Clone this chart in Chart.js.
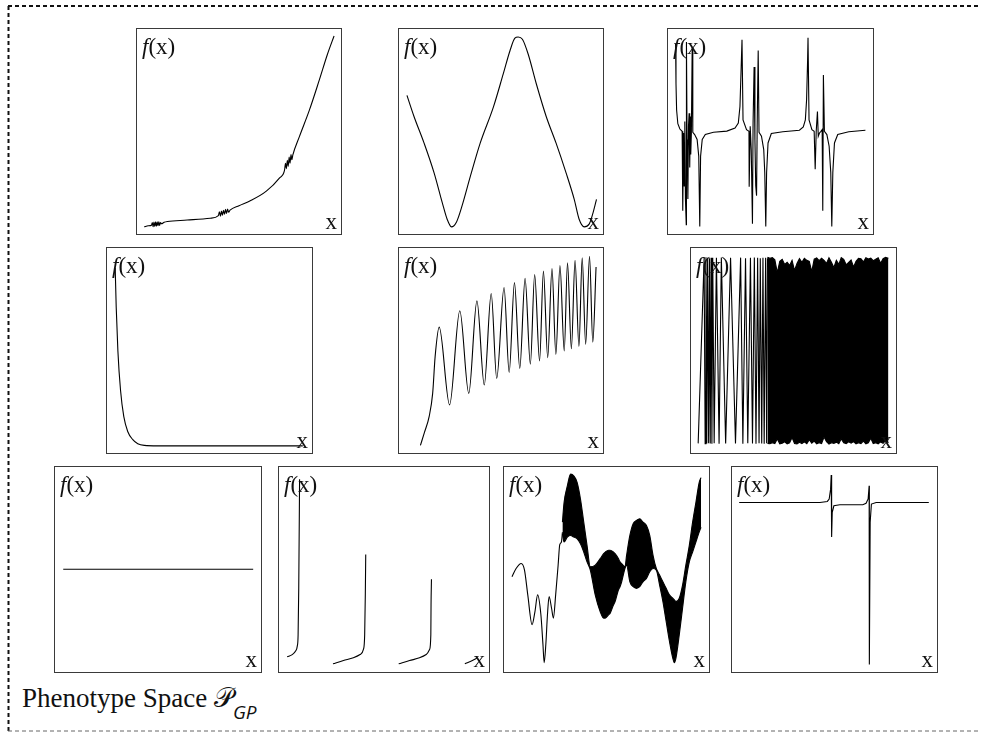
<!DOCTYPE html>
<html>
<head>
<meta charset="utf-8">
<script src="https://cdn.jsdelivr.net/npm/chart.js@4.4.0/dist/chart.umd.min.js"></script>
<style>
  html, body { margin: 0; padding: 0; background: #fff; }
  body { width: 981px; height: 733px; position: relative; overflow: hidden; font-family: "Liberation Serif", "DejaVu Serif", serif; color: #111; }
  .panel { position: absolute; box-sizing: border-box; border: 1px solid #3a3a3a; background: #fff; }
  .panel canvas { position: absolute; left: 0; top: 0; }
  .fx { position: absolute; left: 5px; top: 6px; font-size: 23px; line-height: 23px; white-space: nowrap; }
  .xl { position: absolute; right: 4px; bottom: 1px; font-size: 23px; line-height: 23px; }
  #frame { position: absolute; left: 0; top: 0; }
  #caption { position: absolute; left: 22px; top: 684px; font-size: 27px; line-height: 27px; white-space: nowrap; }
  #caption .sym { font-family: "DejaVu Sans", "Noto Sans", serif; }
  #caption sub { font-family: "Open Sans", "DejaVu Sans", sans-serif; font-style: italic; font-size: 19px; position: relative; top: 12px; vertical-align: baseline; }
</style>
</head>
<body>
<svg id="frame" width="981" height="733">
  <line x1="8" y1="6" x2="981" y2="6" stroke="#111" stroke-width="2" stroke-dasharray="4 3"/>
  <line x1="8.5" y1="6" x2="8.5" y2="731" stroke="#111" stroke-width="2" stroke-dasharray="4 3"/>
  <line x1="8" y1="731" x2="981" y2="731" stroke="#666" stroke-width="1" stroke-dasharray="4 3"/>
</svg>
<div id="caption">Phenotype Space <span class="sym">𝒫</span><sub>GP</sub></div>
<script>
// each curve is [x, f(x)] with both axes running 0..100 across a panel

// exponential growth with three small noisy patches
const growthCurve = [[3.5,3.5],[5.5,4.0],[7.1,4.3],[7.5,5.6],[7.9,3.6],[8.3,5.8],[8.7,3.7],[9.1,5.9],[9.5,3.8],[9.9,6.0],[10.3,4.0],[10.7,5.9],[11.1,4.2],[11.5,5.6],[12.0,5.0],[13.3,5.7],[14.9,6.1],[24.6,6.8],[35.9,7.7],[39.9,9.0],[40.4,10.8],[40.9,8.7],[41.4,11.2],[41.9,9.2],[42.4,11.6],[42.9,9.6],[43.4,12.0],[43.9,10.0],[44.4,12.2],[44.9,10.6],[45.6,11.6],[50.0,13.8],[55.3,16.1],[63.4,20.9],[69.9,27.4],[72.3,31.0],[72.8,34.5],[73.2,31.8],[73.7,36.0],[74.1,33.0],[74.6,37.5],[75.0,34.5],[75.5,38.8],[75.9,36.2],[76.4,38.6],[79.6,47.5],[84.5,60.4],[89.3,74.9],[93.4,87.8],[96.6,96.6]];

// one slow wave
const waveCurve = [[3.9,67.6],[7.4,57.2],[12.3,44.3],[17.2,29.8],[21.2,15.3],[23.6,7.2],[25.7,3.5],[28.2,5.9],[30.9,13.7],[35.0,28.2],[39.8,44.3],[46.3,62.0],[51.1,78.1],[54.4,89.4],[56.8,95.5],[58.4,96.1],[60.5,95.0],[63.3,87.8],[67.3,73.3],[72.2,57.2],[77.0,44.3],[81.9,29.8],[85.9,16.9],[88.3,7.2],[90.8,3.5],[93.2,4.8],[95.6,12.1],[96.8,16.9]];

// repeating poles with bursts of spikes
const poleCurve = [[3.7,92.8],[3.9,73.4],[4.2,60.5],[4.8,53.8],[5.8,51.2],[6.9,50.1],[7.2,11.4],[7.6,49.3],[7.9,23.5],[8.2,54.9],[8.5,17.1],[8.9,4.5],[9.0,93.6],[9.3,46.1],[9.7,17.1],[10.0,52.5],[10.3,58.9],[10.6,32.4],[10.9,57.3],[11.1,38.8],[11.4,49.3],[11.8,91.1],[12.1,49.6],[13.0,48.5],[14.2,46.1],[15.0,38.0],[15.5,3.7],[15.9,38.0],[16.7,46.1],[18.2,48.5],[22.2,49.6],[28.7,50.2],[32.7,51.7],[34.3,54.1],[35.1,62.2],[35.7,81.5],[36.1,94.7],[36.6,55.7],[38.3,50.9],[39.5,50.1],[39.6,23.0],[40.1,52.5],[40.6,41.2],[41.2,5.0],[41.5,54.1],[42.0,81.5],[42.4,46.1],[42.8,23.5],[43.2,18.7],[43.5,52.5],[44.0,89.5],[44.4,49.6],[45.6,47.7],[46.7,41.2],[47.2,30.0],[47.7,3.7],[48.1,30.0],[48.8,44.4],[50.4,49.0],[56.0,49.9],[64.1,50.6],[66.0,52.2],[67.0,55.7],[67.6,65.4],[68.1,84.7],[68.3,95.7],[68.8,55.7],[70.2,50.9],[71.3,50.1],[71.8,31.6],[72.3,50.1],[72.9,59.7],[73.3,47.7],[73.9,49.3],[74.6,50.1],[75.2,50.9],[75.5,11.4],[75.8,77.5],[76.3,50.1],[77.5,48.5],[78.6,42.8],[79.4,30.0],[79.9,3.7],[80.4,30.0],[81.2,44.4],[82.8,48.5],[88.2,49.9],[96.3,50.6]];

// fast decay
const decayCurve = [[4.0,90.3],[4.5,71.0],[5.3,50.0],[6.6,30.6],[8.2,17.7],[10.1,10.5],[12.6,6.5],[15.0,4.5],[18.2,3.7],[24.6,3.5],[95.5,3.5]];

// rising oscillation, period shrinking
const rampCurve = [[10.5,3.7],[12.4,9.8],[14.8,17.9],[16.5,29.1],[17.7,46.9],[19.7,61.4],[24.8,23.5],[29.8,69.4],[34.2,29.1],[38.2,74.2],[41.8,33.2],[45.2,77.8],[47.9,36.4],[51.5,80.7],[54.0,39.3],[56.6,83.1],[59.2,41.2],[61.8,85.2],[64.4,43.3],[66.5,87.1],[68.9,44.9],[70.8,88.7],[72.9,46.5],[75.0,90.0],[76.9,48.1],[78.9,91.5],[81.0,49.8],[82.6,92.8],[84.5,50.9],[86.3,94.0],[88.2,52.0],[89.8,95.2],[91.5,53.0],[93.4,96.0],[95.0,54.1],[96.6,90.7]];

// chirp: separate strokes first, then a band too dense to resolve
const chirpCurve = [[3.5,4.7],[6.4,95.0],[6.9,4.5],[7.3,95.5],[7.7,4.6],[8.1,95.3],[8.6,4.7],[9.0,95.0],[9.4,4.6],[9.8,95.2],[10.2,4.5],[10.6,95.3],[11.3,4.7],[12.4,95.2],[13.7,4.5],[14.8,95.4],[16.9,4.6],[19.3,95.2],[21.7,4.7],[24.2,95.3],[25.3,4.5],[26.6,95.0],[27.7,4.7],[29.0,95.2],[30.0,4.6],[30.9,95.4],[31.7,4.5],[32.5,95.2],[33.2,4.7],[33.8,95.0],[34.5,4.6],[35.1,95.3],[35.7,4.5],[36.4,95.2],[36.9,4.7],[37.3,95.0]];
const chirpBandX = [37.3,38.5,39.7,40.9,42.1,43.3,44.5,45.7,46.9,48.1,49.3,50.5,51.7,52.9,54.1,55.3,56.5,57.7,58.9,60.1,61.3,62.5,63.7,64.9,66.1,67.3,68.5,69.7,70.9,72.1,73.3,74.5,75.7,76.9,78.1,79.3,80.5,81.7,82.9,84.1,85.3,86.5,87.7,88.9,90.1,91.3,92.5,93.7,94.9,96.3];
const chirpBandTop = [95.5,95,95.3,94.2,88,93.5,94.5,92,93,91.5,94,89,92.5,94.8,93,95,94,93.5,88.5,94.6,95.2,93.8,95,94,92.5,95.2,93,90.5,94,92,95.3,94.5,91.8,93,94.2,90.8,93.5,95,94.8,93.2,95.3,94.6,95,93.8,94.5,95.2,92.6,94.8,95.4,95];
const chirpBandLow = [4.7,4.5,5,4.6,6.8,4.5,4.8,5.5,4.5,5,7.5,4.6,4.4,5.2,4.6,5.5,4.5,6.5,4.8,5.8,4.5,5,4.6,7.8,5.5,4.4,5,4.7,5.3,4.5,6.9,5,4.6,5.5,4.8,5.6,4.5,5,4.6,5.8,4.5,5,7.2,4.6,5,4.5,5.4,4.7,6,5];

// constant
const flatCurve = [[4.0,50.1],[96.2,50.1]];

// repeated steep branches
const branch1 = [[3.9,7.4],[6.3,8.5],[7.9,10.2],[8.7,12.6],[9.1,18.2],[9.4,40.8],[9.8,94.0]];
const branch2 = [[25.7,4.0],[30.7,5.6],[35.4,6.9],[38.6,8.5],[40.2,11.0],[40.8,18.2],[41.1,37.6],[41.3,57.3]];
const branch3 = [[57.0,4.0],[62.2,5.6],[66.9,6.9],[70.1,8.5],[71.7,11.0],[72.3,18.2],[72.4,32.7],[72.6,45.2]];
const branch4 = [[88.5,4.0],[92.1,5.6],[94.5,6.9]];

// smooth start, then noisy bands around a slow curve
const mixCurve = [[3.9,46.5],[5.9,50.5],[8.4,52.9],[10.0,49.7],[11.6,37.6],[13.7,23.1],[15.1,29.5],[16.4,37.6],[18.0,27.9],[19.0,13.4],[19.6,4.5],[20.4,13.4],[21.2,27.9],[22.0,36.8],[23.2,31.1],[24.1,26.3],[25.2,37.6],[26.4,52.1],[27.2,62.1],[28.0,63.4],[28.5,68.2]];
const mixBandX = [28.5,29.3,30.9,32.5,34.1,35.7,37.3,38.9,40.5,42.1,44.5,46.9,48.6,49.4,51.0,51.8,53.4,54.2,55.8,56.6,57.4,59.0,59.8,61.4,63.0,64.6,66.2,67.8,69.5,71.1,72.7,74.3,75.9,77.5,79.1,80.7,82.3,83.1,83.9,85.5,87.1,88.7,90.4,92.0,93.6,95.2,96.1];
const mixBandTop = [73.1,82.7,90.8,96.5,95.6,92.4,84.4,73.1,61.8,51.3,52.1,55.3,57.7,58.5,59.4,59.4,58.5,57.7,55.3,53.7,52.9,51.3,56.9,66.6,72.3,73.9,74.7,73.1,71.5,66.6,56.9,50.5,47.3,44.0,40.8,37.6,36.0,35.2,34.4,36.0,42.4,52.1,61.8,73.1,82.7,92.4,94.8];
const mixBandLow = [67.4,63.4,65.8,66.6,65.8,65.0,62.6,58.5,53.7,49.7,37.6,29.5,26.3,26.3,27.9,28.7,32.7,34.4,40.0,41.6,44.0,50.5,52.1,44.0,41.6,40.8,41.6,44.0,45.6,48.9,50.5,49.7,42.4,34.4,24.7,15.0,6.9,4.5,6.9,18.2,31.1,44.0,53.7,58.5,63.4,68.2,70.6];

// flat with two poles
const spikeCurve = [[3.5,82.7],[42.9,82.7],[46.5,83.2],[47.4,84.4],[48.1,89.2],[48.4,96.1],[48.6,65.8],[48.9,77.9],[49.7,81.1],[52.6,81.6],[63.8,81.6],[65.4,82.3],[66.4,84.4],[66.9,90.8],[67.0,3.7],[67.4,73.1],[68.0,81.9],[70.3,82.7],[96.0,82.7]];

const toXY = (pts) => pts.map(([x, y]) => ({ x, y }));
const zip = (xs, ys) => xs.map((x, i) => ({ x, y: ys[i] }));

function curve(data, mode) {
  return {
    data,
    borderColor: '#000',
    borderWidth: 1.1,
    pointRadius: 0,
    fill: false,
    tension: mode === 'smooth' ? 0.4 : 0,
    cubicInterpolationMode: mode === 'smooth' ? 'monotone' : 'default'
  };
}

// two envelope lines with the space between them filled in
function band(xs, top, low, mode) {
  return [
    curve(zip(xs, top), mode),
    Object.assign(curve(zip(xs, low), mode), { fill: '-1', backgroundColor: '#000' })
  ];
}

const panels = [
  { left: 136, top: 28,  w: 206, h: 207, sets: [curve(toXY(growthCurve), 'smooth')] },
  { left: 398, top: 28,  w: 206, h: 207, sets: [curve(toXY(waveCurve), 'smooth')] },
  { left: 667, top: 28,  w: 207, h: 207, sets: [curve(toXY(poleCurve), 'sharp')] },
  { left: 106, top: 247, w: 207, h: 207, sets: [curve(toXY(decayCurve), 'smooth')] },
  { left: 398, top: 247, w: 206, h: 207, sets: [curve(toXY(rampCurve), 'smooth')] },
  { left: 690, top: 247, w: 207, h: 207, sets: [curve(toXY(chirpCurve), 'sharp')].concat(band(chirpBandX, chirpBandTop, chirpBandLow, 'sharp')) },
  { left: 54,  top: 466, w: 208, h: 207, sets: [curve(toXY(flatCurve), 'sharp')] },
  { left: 278, top: 466, w: 212, h: 207, sets: [branch1, branch2, branch3, branch4].map(b => curve(toXY(b), 'smooth')) },
  { left: 503, top: 466, w: 207, h: 207, sets: [curve(toXY(mixCurve), 'smooth')].concat(band(mixBandX, mixBandTop, mixBandLow, 'smooth')) },
  { left: 731, top: 466, w: 207, h: 207, sets: [curve(toXY(spikeCurve), 'sharp')] }
];

panels.forEach((p) => {
  const box = document.createElement('div');
  box.className = 'panel';
  Object.assign(box.style, { left: p.left + 'px', top: p.top + 'px', width: p.w + 'px', height: p.h + 'px' });
  const canvas = document.createElement('canvas');
  canvas.width = p.w - 2;
  canvas.height = p.h - 2;
  box.appendChild(canvas);
  const fx = document.createElement('div');
  fx.className = 'fx';
  fx.innerHTML = '<i>f</i>(x)';
  const xl = document.createElement('div');
  xl.className = 'xl';
  xl.textContent = 'x';
  box.appendChild(fx);
  box.appendChild(xl);
  document.body.appendChild(box);

  new Chart(canvas, {
    type: 'line',
    data: { datasets: p.sets },
    options: {
      responsive: false,
      animation: false,
      events: [],
      layout: { padding: 0 },
      plugins: { legend: { display: false }, tooltip: { enabled: false } },
      scales: {
        x: { type: 'linear', min: 0, max: 100, display: false },
        y: { type: 'linear', min: 0, max: 100, display: false }
      }
    }
  });
});
</script>
</body>
</html>
